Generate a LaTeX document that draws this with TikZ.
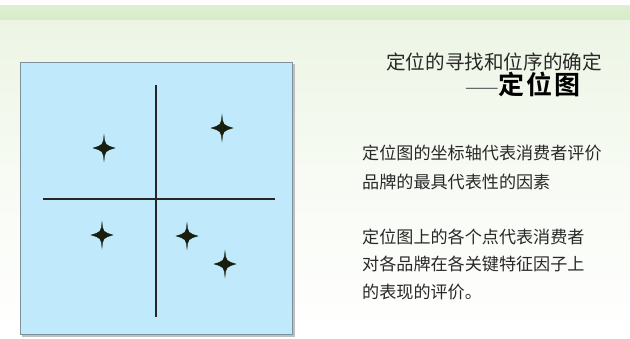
\documentclass[tikz,border=0pt]{standalone}
\usepackage{fontspec}
\newfontfamily\cjk{Noto Sans CJK SC}
\newfontfamily\cjkbold{Noto Sans CJK SC Bold}
\definecolor{bgtop}{RGB}{236,245,228}
\definecolor{band}{RGB}{214,236,200}
\definecolor{panel}{RGB}{192,234,251}
\definecolor{paneledge}{RGB}{125,145,155}
\definecolor{ink}{RGB}{40,40,40}
\definecolor{starink}{RGB}{25,30,15}
\tikzset{
  axisline/.style={line width=2.2pt,black!85},
  startxt/.style={fill=starink,draw=starink,line width=0.3pt},
  bodytxt/.style={anchor=west,inner sep=0pt,text=ink,align=left},
  pics/fourstar/.style={code={
    \path[startxt] (0,-13) .. controls (1,-3) .. (11,0) .. controls (1,3) .. (0,13)
      .. controls (-1,3) .. (-11,0) .. controls (-1,-3) .. cycle;}}
}
\begin{document}
\begin{tikzpicture}[x=1pt,y=-1pt]
\useasboundingbox (0,0) rectangle (630,338);
% background
\shade[top color=bgtop,bottom color=white,middle color=bgtop!40] (0,18) rectangle (630,338);
\fill[white] (0,0) rectangle (630,5);
\shade[top color=band!80,bottom color=band] (0,5) rectangle (630,19);
% panel
\fill[black!25] (22,64) rectangle (295,337);
\node[draw=paneledge,fill=panel,line width=1pt,minimum width=272pt,minimum height=272pt,inner sep=0pt,anchor=north west] (panel) at (20,62) {};
% axes
\coordinate (vtop) at (156,85);
\coordinate (vbot) at (156,317);
\coordinate (hl) at (43,199);
\coordinate (hr) at (275,199);
\draw[axisline] (vtop) -- (vbot);
\draw[axisline] (hl) -- (hr);
% stars
\pic at (104,148) {fourstar};
\pic at (222,128) {fourstar};
\pic at (102,235) {fourstar};
\pic at (187,236) {fourstar};
\pic at (225,264) {fourstar};
% texts
\node[anchor=east,inner sep=0pt,text=ink,font=\cjk\fontsize{19.6}{20}\selectfont] (title) at (602,62) {定位的寻找和位序的确定};
\node[anchor=east,inner sep=0pt,text=black,font=\cjkbold\fontsize{26}{27}\selectfont] (sub) at (581,84) {\textcolor{ink!70}{\fontsize{20}{21}\selectfont\cjk ——}定\hspace{2pt}位\hspace{2pt}图};
\node[bodytxt,font=\cjk\fontsize{17.1}{29}\selectfont] (p1) at (362,167) {定位图的坐标轴代表消费者评价\\品牌的最具代表性的因素};
\node[bodytxt,font=\cjk\fontsize{17.1}{27.5}\selectfont] (p2) at (362,264) {定位图上的各个点代表消费者\\对各品牌在各关键特征因子上\\的表现的评价。};
\end{tikzpicture}
\end{document}
